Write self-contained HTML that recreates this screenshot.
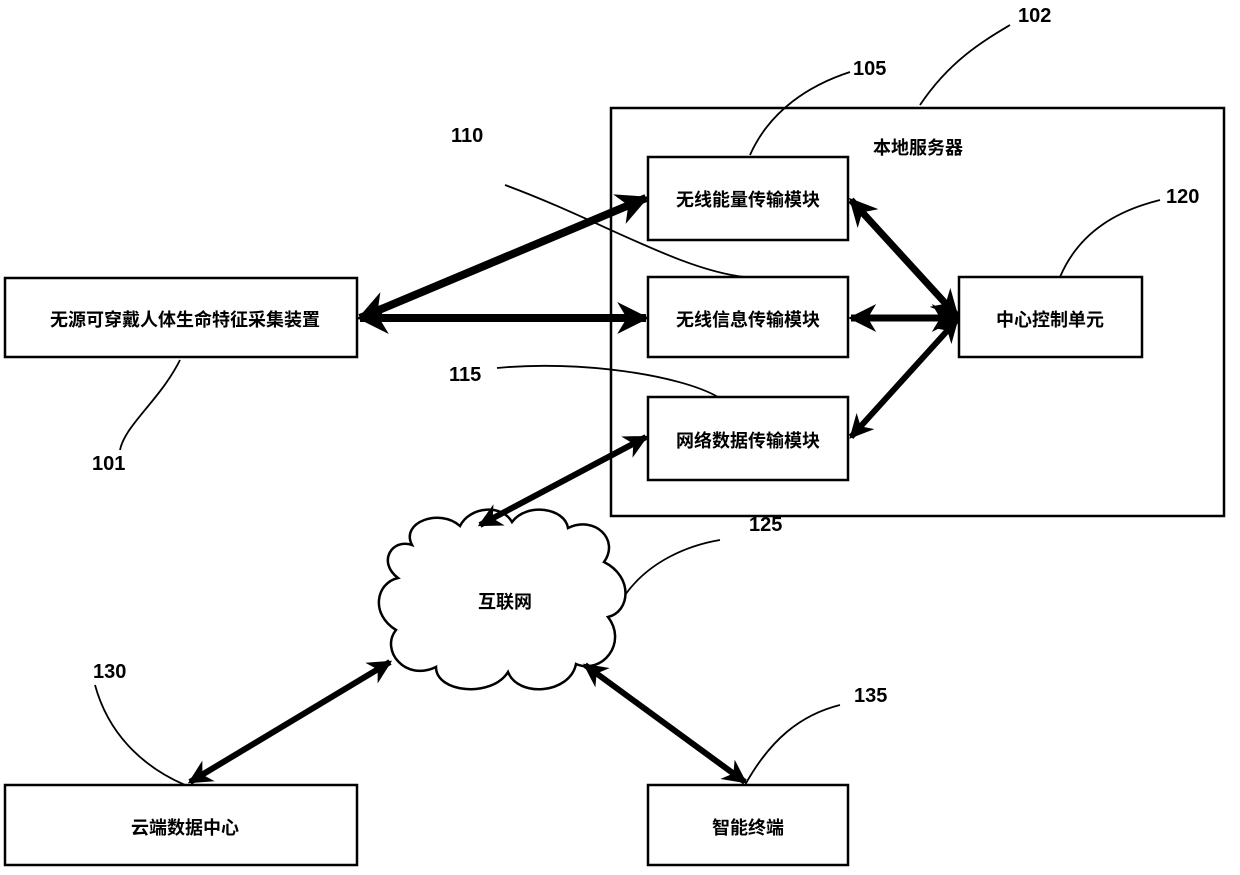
<!DOCTYPE html>
<html><head><meta charset="utf-8"><style>
html,body{margin:0;padding:0;background:#fff}
svg{display:block}
text{font-family:"Liberation Sans","Noto Sans CJK SC",sans-serif;fill:#000}
.l{font-size:20px;font-weight:bold}
.c{font-size:18px;font-weight:bold}
</style></head><body>
<svg width="1240" height="875" viewBox="0 0 1240 875" xmlns="http://www.w3.org/2000/svg">
<defs>
<marker id="a" viewBox="0 0 10 10" refX="9" refY="5" markerWidth="4" markerHeight="4" orient="auto-start-reverse" markerUnits="strokeWidth">
<path d="M0,0 L10,5 L0,10 L3,5 z" fill="#000"/></marker>
</defs>
<g fill="none" stroke="#000" stroke-width="2.5">
<rect x="611" y="108" width="613" height="408"/>
<rect x="648" y="157" width="200" height="83"/>
<rect x="648" y="277" width="200" height="80"/>
<rect x="648" y="397" width="200" height="83"/>
<rect x="959" y="277" width="183" height="80"/>
<rect x="5" y="278" width="352" height="79"/>
<rect x="5" y="785" width="352" height="80"/>
<rect x="648" y="785" width="200" height="80"/>
<path d="M412,545 C400,522 440,508 460,526 C470,506 502,504 512,522 C527,502 565,508 568,528 C595,515 620,540 604,562 C634,577 630,612 608,617 C628,643 602,675 576,664 C570,694 518,698 508,672 C492,698 436,693 436,667 C405,682 380,650 396,630 C370,614 376,583 398,578 C377,562 392,538 412,545 z"/>
</g>
<g fill="none" stroke="#000" stroke-width="1.8">
<path d="M920,105 C950,60 985,40 1010,25"/>
<path d="M750,155 C770,110 810,85 850,72"/>
<path d="M505,185 C600,220 680,270 745,277"/>
<path d="M1060,277 C1080,230 1120,210 1160,200"/>
<path d="M497,368 C580,360 680,375 718,397"/>
<path d="M625,595 C650,560 690,545 720,540"/>
<path d="M95,685 C110,740 150,770 185,785"/>
<path d="M745,785 C770,740 800,715 840,705"/>
<path d="M180,360 C160,400 125,425 120,450"/>
</g>
<g stroke="#000" fill="none" marker-start="url(#a)" marker-end="url(#a)">
<line x1="360" y1="318" x2="646" y2="198" stroke-width="8"/>
<line x1="360" y1="318" x2="646" y2="318" stroke-width="8"/>
<line x1="851" y1="200" x2="957" y2="316" stroke-width="7"/>
<line x1="851" y1="318" x2="957" y2="318" stroke-width="7"/>
<line x1="851" y1="437" x2="957" y2="320" stroke-width="6"/>
<line x1="646" y1="437" x2="480" y2="525" stroke-width="6"/>
<line x1="190" y1="782" x2="390" y2="662" stroke-width="6"/>
<line x1="745" y1="782" x2="585" y2="665" stroke-width="6"/>
</g>
<g class="l">
<text x="1018" y="22">102</text>
<text x="853" y="75">105</text>
<text x="451" y="142">110</text>
<text x="1166" y="203">120</text>
<text x="449" y="381">115</text>
<text x="749" y="531">125</text>
<text x="93" y="678">130</text>
<text x="854" y="702">135</text>
<text x="92" y="470">101</text>
</g>
<g class="c" text-anchor="middle">
<text x="918" y="154">本地服务器</text>
<text x="748" y="206">无线能量传输模块</text>
<text x="748" y="326">无线信息传输模块</text>
<text x="748" y="447">网络数据传输模块</text>
<text x="1050" y="326">中心控制单元</text>
<text x="185" y="326">无源可穿戴人体生命特征采集装置</text>
<text x="185" y="834">云端数据中心</text>
<text x="748" y="834">智能终端</text>
<text x="505" y="608">互联网</text>
</g>
</svg>
</body></html>
